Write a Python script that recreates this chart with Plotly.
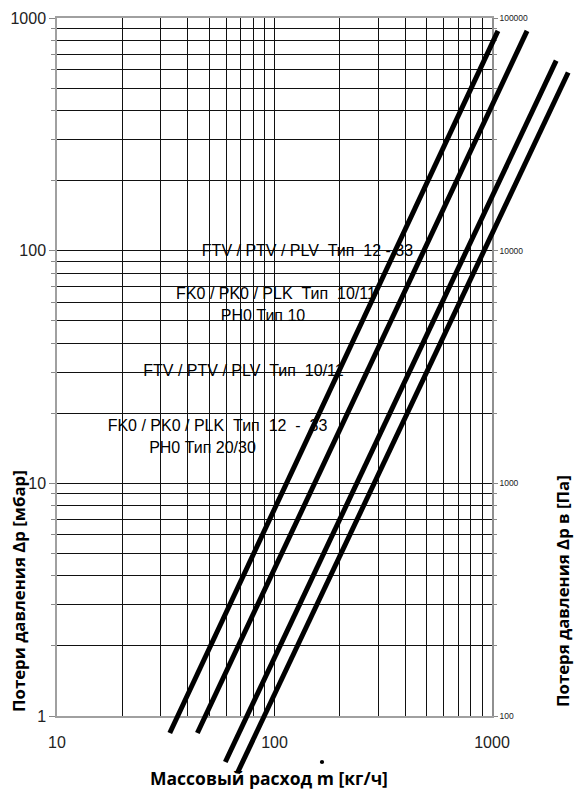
import plotly.graph_objects as go

# ---------------- data ----------------
# mass flow [kg/h] and pressure drop [mbar] at the two ends of each curve
series_names = [
    "FTV / PTV / PLV Тип 12 - 33",
    "FTV / PTV / PLV Тип 10/11",
    "FK0 / PK0 / PLK Тип 10/11, PH0 Тип 10",
    "FK0 / PK0 / PLK Тип 12 - 33, PH0 Тип 20/30",
]
flow_1 = [33.0, 1065.0]
dp_1 = [0.845, 880.0]
flow_2 = [44.2, 1449.0]
dp_2 = [0.845, 880.0]
flow_3 = [59.4, 1973.0]
dp_3 = [0.634, 656.0]
flow_4 = [67.5, 2240.0]
dp_4 = [0.569, 583.0]

x_tick_vals = [10, 100, 1000]
x_tick_text = ["10", "100", "1000"]
y_tick_vals_mbar = [1, 10, 100, 1000]
y_tick_text_mbar = ["1", "10", "100", "1000"]
y_tick_vals_pa = [100, 1000, 10000, 100000]
y_tick_text_pa = ["100", "1000", "10000", "100000"]

label_texts = [
    "FTV / PTV / PLV\u00a0 Тип\u00a0 12 - 33",
    "FK0 / PK0 / PLK\u00a0 Тип\u00a0 10/11",
    "PH0 Тип 10",
    "FTV / PTV / PLV\u00a0 Тип\u00a0 10/11",
    "FK0 / PK0 / PLK\u00a0 Тип\u00a0 12\u00a0 -\u00a0 33",
    "PH0 Тип 20/30",
]

# ---------------- geometry helpers (layout only) ----------------
W, H = 576, 793
ML, MT = 57, 18            # plot area left / top in px
X_LEFT, X_RIGHT = 57, 492  # px of x=10 and x=1000
Y_BOTTOM, Y_TOP = 716, 18  # px of y=1 and y=1000
PX_DEC_X = (X_RIGHT - X_LEFT) / 2.0
PX_DEC_Y = (Y_BOTTOM - Y_TOP) / 3.0
PLOT_W = W - ML
PLOT_H = H - MT


def xl(px):
    return 1 + (px - X_LEFT) / PX_DEC_X


def yl(py):
    return (Y_BOTTOM - py) / PX_DEC_Y


def xp(px):
    return (px - ML) / PLOT_W


def yp(py):
    return (H - py) / PLOT_H


GRID = "#111111"
AXIS = "#a0a0a0"
TICKFONT = "Liberation Sans, Arial, sans-serif"
TITLEFONT = "Open Sans, Noto Sans, sans-serif"

fig = go.Figure()

# dummy traces to create the main subplot and the right axis overlay
fig.add_trace(go.Scatter(x=[], y=[], xaxis="x", yaxis="y", showlegend=False))
fig.add_trace(go.Scatter(x=[], y=[], xaxis="x", yaxis="y3", showlegend=False))

# label texts (drawn beneath the curves, like the original)
label_pos = [(307.5, 252), (276, 295), (263, 317), (243.5, 372), (217.5, 427), (202.5, 449)]
for txt, (cx, cy) in zip(label_texts, label_pos):
    fig.add_trace(go.Scatter(
        x=[10 ** xl(cx)], y=[10 ** yl(cy)], mode="text", text=[txt],
        textposition="middle center",
        textfont=dict(family=TICKFONT, size=16, color="#000"),
        xaxis="x2", yaxis="y2", hoverinfo="skip", showlegend=False))

# curves
for name, fx, dy in zip(series_names, [flow_1, flow_2, flow_3, flow_4], [dp_1, dp_2, dp_3, dp_4]):
    fig.add_trace(go.Scatter(
        x=fx, y=dy, mode="lines", name=name,
        line=dict(color="black", width=5),
        xaxis="x2", yaxis="y2", showlegend=False))

# white boxes behind labels (above grid, below traces)
boxes_px = [(192, 418, 245, 258), (163, 353, 280, 328), (133, 340, 360, 382), (105, 330, 416, 460)]
for x0, x1, y0, y1 in boxes_px:
    fig.add_shape(type="rect", xref="x", yref="y", x0=xl(x0), x1=xl(x1), y0=yl(y1), y1=yl(y0),
                  fillcolor="white", line=dict(width=0), layer="between")

# leader lines
leaders_px = [((381.7, 261.7), (399.3, 280)), ((353.3, 328.3), (430, 401.7)),
              ((322.7, 383.3), (360, 419)), ((298, 462), (345, 507))]
for (ax0, ay0), (ax1, ay1) in leaders_px:
    fig.add_shape(type="line", xref="x", yref="y", x0=xl(ax0), y0=yl(ay0), x1=xl(ax1), y1=yl(ay1),
                  line=dict(color="black", width=1), layer="above")

# dot over "m" (mass flow symbol ṁ)
DOT_R = 2.1
fig.add_shape(type="circle", xref="paper", yref="paper",
              x0=xp(322 - DOT_R), x1=xp(322 + DOT_R), y0=yp(762 + DOT_R), y1=yp(762 - DOT_R),
              fillcolor="black", line=dict(width=0), layer="above")

annotations = [
    dict(text="<b>Массовый расход m [кг/ч]</b>", x=xp(269), y=yp(778), xref="paper", yref="paper",
         showarrow=False, xanchor="center", yanchor="middle",
         font=dict(family=TITLEFONT, size=17.5, color="black")),
    dict(text="<b>Потери давления Δp [мбар]</b>", x=xp(18), y=yp(591), xref="paper", yref="paper",
         showarrow=False, xanchor="center", yanchor="middle", textangle=-90,
         font=dict(family=TITLEFONT, size=16.8, color="black")),
    dict(text="<b>Потеря давления Δp в [Па]</b>", x=xp(562), y=yp(591), xref="paper", yref="paper",
         showarrow=False, xanchor="center", yanchor="middle", textangle=-90,
         font=dict(family=TITLEFONT, size=16.8, color="black")),
]

x_dom = [0, (X_RIGHT - ML) / PLOT_W]
y_dom = [(H - Y_BOTTOM) / PLOT_H, 1]

fig.update_layout(
    template="none",
    width=W, height=H,
    margin=dict(l=ML, r=0, t=MT, b=0, pad=0),
    paper_bgcolor="white",
    plot_bgcolor="rgba(0,0,0,0)",
    showlegend=False,
    annotations=annotations,
    xaxis=dict(type="log", range=[1, 3], domain=x_dom, anchor="y",
               tickmode="array", tickvals=x_tick_vals, ticktext=x_tick_text,
               ticks="outside", ticklen=11, tickcolor="rgba(0,0,0,0)",
               tickfont=dict(family=TICKFONT, size=16, color="#222"),
               showgrid=True, gridcolor=GRID, gridwidth=1,
               minor=dict(dtick="D1", showgrid=True, gridcolor=GRID, gridwidth=1, ticks=""),
               showline=True, linecolor=AXIS, linewidth=1.5, mirror=True,
               zeroline=False, automargin=False),
    yaxis=dict(type="log", range=[0, 3], domain=y_dom, anchor="x",
               tickmode="array", tickvals=y_tick_vals_mbar, ticktext=y_tick_text_mbar,
               ticks="outside", ticklen=6, tickcolor="#888", tickwidth=1,
               tickfont=dict(family=TICKFONT, size=16, color="#222"),
               showgrid=True, gridcolor=GRID, gridwidth=1,
               minor=dict(dtick="D1", showgrid=True, gridcolor=GRID, gridwidth=1,
                          ticks="outside", ticklen=4, tickcolor="#888"),
               showline=True, linecolor=AXIS, linewidth=1.5,
               zeroline=False, automargin=False),
    yaxis3=dict(type="log", range=[2, 5], overlaying="y", side="right", anchor="x",
                tickmode="array", tickvals=y_tick_vals_pa, ticktext=y_tick_text_pa,
                ticks="outside", ticklen=4, tickcolor="#888",
                tickfont=dict(family=TICKFONT, size=8.5, color="#222"),
                showgrid=False,
                minor=dict(dtick="D1", showgrid=False, ticks="outside", ticklen=3, tickcolor="#888"),
                showline=True, linecolor="#909090", linewidth=1.5,
                zeroline=False, automargin=False),
    xaxis2=dict(type="log", range=[1, xl(W)], domain=[0, 1], anchor="y2", visible=False),
    yaxis2=dict(type="log", range=[yl(H), 3], domain=[0, 1], anchor="x2", visible=False),
)

fig.write_html(
    "out.html",
    config={"displayModeBar": False},
    post_script="document.body.style.margin='0';document.body.style.padding='0';"
                "document.body.style.overflow='hidden';",
)
